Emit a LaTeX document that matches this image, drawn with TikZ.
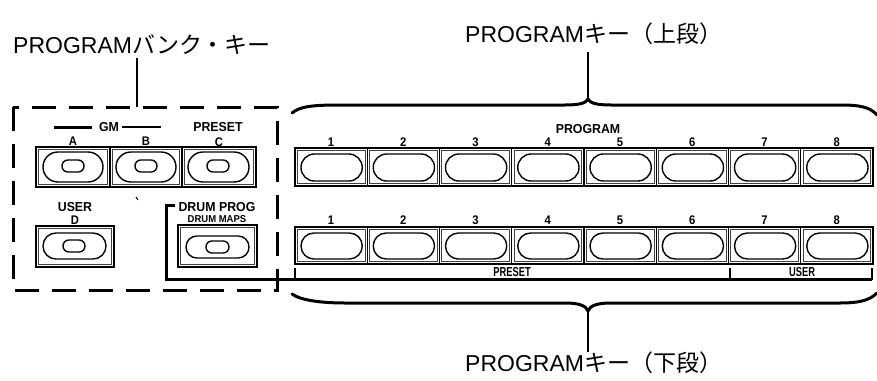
\documentclass[tikz,border=0pt]{standalone}
\usepackage{fontspec}
\newfontfamily\jpfont{Noto Sans CJK JP}
\newfontfamily\latfont{Liberation Sans}
\newfontfamily\keyfont[FakeStretch=0.95]{Liberation Sans}
\newfontfamily\numfont[FakeStretch=0.9]{Liberation Sans}
\newfontfamily\condfont[FakeStretch=0.72]{Liberation Sans}
\usetikzlibrary{calc}
\newcommand\KeyBox[4]{%
  \draw[keyouter] (#1,#2) rectangle (#3,#4);
  \draw[keyinner] (#1+2.2,#2+2.2) rectangle (#3-2.2,#4-2.2);}
\newcommand\Stad[4]{%
  \pgfmathsetmacro\stadr{abs(#4-#2)/2-0.1}%
  \draw[stad, rounded corners=\stadr pt] (#1,#2) rectangle (#3,#4);}
\tikzset{
  titletext/.style={inner sep=0, anchor=base west, font=\fontsize{23}{23}\selectfont},
  lbl/.style={inner sep=0, font=\keyfont\bfseries\fontsize{13}{13}\selectfont},
  smalllbl/.style={inner sep=0, font=\keyfont\bfseries\fontsize{10}{10}\selectfont},
  numlbl/.style={inner sep=0, font=\numfont\bfseries\fontsize{12.5}{12.5}\selectfont},
  condlbl/.style={inner sep=0, font=\condfont\bfseries\fontsize{13}{13}\selectfont},
  keyouter/.style={line width=1.3pt},
  keyinner/.style={line width=0.8pt, draw=black!75},
  stad/.style={line width=1.4pt},
  heavy/.style={line width=3pt},
  thinline/.style={line width=1.4pt},
  bracepath/.style={line width=3pt, line cap=round, line join=round},
}
\begin{document}
\begin{tikzpicture}[x=1pt,y=-1pt]
\useasboundingbox[fill=white] (0,0) rectangle (877,380);

% titles
\node[titletext] (tbank) at (13,53) {\latfont PROGRAM\jpfont バンク・キー};
\node[titletext] (tupper) at (465,42) {\latfont PROGRAM\jpfont キー（上段）};
\node[titletext] (tlower) at (465,371) {\latfont PROGRAM\jpfont キー（下段）};

% bank keys dashed frame
\draw[heavy, dash pattern=on 24pt off 13pt] (13,107) rectangle (277,290);
\coordinate (bktop) at (137,58);
\coordinate (bkbot) at (137,107);
\draw[thinline] (bktop) -- (bkbot);

% GM / PRESET labels
\node[lbl] (gm) at (109,127) {GM};
\draw[heavy] ($(gm.west)+(-7,0)$) -- ++(-38,0);
\draw[line width=2.2pt] ($(gm.east)+(3,0)$) -- ++(39,0);
\node[lbl] (preset) at (218,127) {PRESET};
\node[numlbl] (la) at (73,141) {A};
\node[numlbl] (lb) at (146,141) {B};
\node[numlbl] (lc) at (219,142) {C};

% A B C keys
\KeyBox{36}{147}{110}{187}
\KeyBox{110}{147}{182}{187}
\KeyBox{182}{147}{256}{187}
\Stad{43}{152}{103}{182}
\Stad{116}{152}{176}{182}
\Stad{188}{152}{249}{182}
\Stad{62}{160}{84}{172}
\Stad{135}{160}{157}{172}
\Stad{207}{160}{229}{172}

% stray mark
\draw[line width=1pt] (136,197) -- (138,200);

% USER D
\node[lbl] (luser) at (75,207) {USER};
\node[numlbl] (ld) at (75,220) {D};
\KeyBox{36}{226}{114}{267}
\Stad{43}{233}{106}{259}
\Stad{63}{240}{85}{252}

% DRUM PROG
\node[lbl] (dprog) at (217,207) {DRUM PROG};
\node[smalllbl] (dmaps) at (217,219) {DRUM MAPS};
\KeyBox{178}{225}{257}{267}
\Stad{186}{236}{249}{258}
\Stad{206}{241}{229}{253}

% PROGRAM label
\node[lbl] (lprog) at (588,129) {PROGRAM};

% upper and lower rows
\foreach \i in {0,...,7}{
  \pgfmathsetmacro\xa{295+72.25*\i}
  \pgfmathsetmacro\xb{\xa+72.25}
  \pgfmathtruncatemacro\n{\i+1}
  \KeyBox{\xa}{148}{\xb}{186}
  \Stad{\xa+6}{154}{\xb-5}{181}
  \node[numlbl] (up\n) at (\xa+36,142) {\n};
  \KeyBox{\xa}{227}{\xb}{264}
  \Stad{\xa+6}{233}{\xb-5}{259}
  \node[numlbl] (lo\n) at (\xa+36,220) {\n};
}

% drum prog bracket and PRESET / USER bar
\coordinate (barL) at (166,279);
\coordinate (barR) at (872,279);
\draw[heavy] ($(dprog.west)+(-3,-2)$) -| (barL) -- (barR);
\draw[line width=2.4pt] (295,268) -- (295,279);
\draw[line width=2.4pt] (730,268) -- (730,279);
\draw[line width=2.4pt] (872,268) -- (872,280);
\node[condlbl] (bpreset) at (512,272) {PRESET};
\node[condlbl] (buser) at (802,272) {USER};

% upper brace
\coordinate (tcusp) at (588,99);
\draw[bracepath] (292,113) .. controls (300,106) and (315,105) .. (340,105)
  -- (565,105) .. controls (580,105) and (586,103) .. (tcusp)
  .. controls (590,103) and (596,105) .. (611,105)
  -- (840,105) .. controls (860,105) and (870,107) .. (877,115);
\coordinate (tstem) at (588,52);
\draw[thinline] (tstem) -- (tcusp);

% lower brace
\coordinate (bcusp) at (588,311);
\draw[bracepath] (292,294) .. controls (300,300) and (320,303) .. (345,303)
  -- (565,303) .. controls (580,303) and (586,306) .. (bcusp)
  .. controls (590,306) and (596,303) .. (611,303)
  -- (840,303) .. controls (860,303) and (870,300) .. (877,293);
\coordinate (bstem) at (588,352);
\draw[thinline] (bcusp) -- (bstem);
\end{tikzpicture}
\end{document}
